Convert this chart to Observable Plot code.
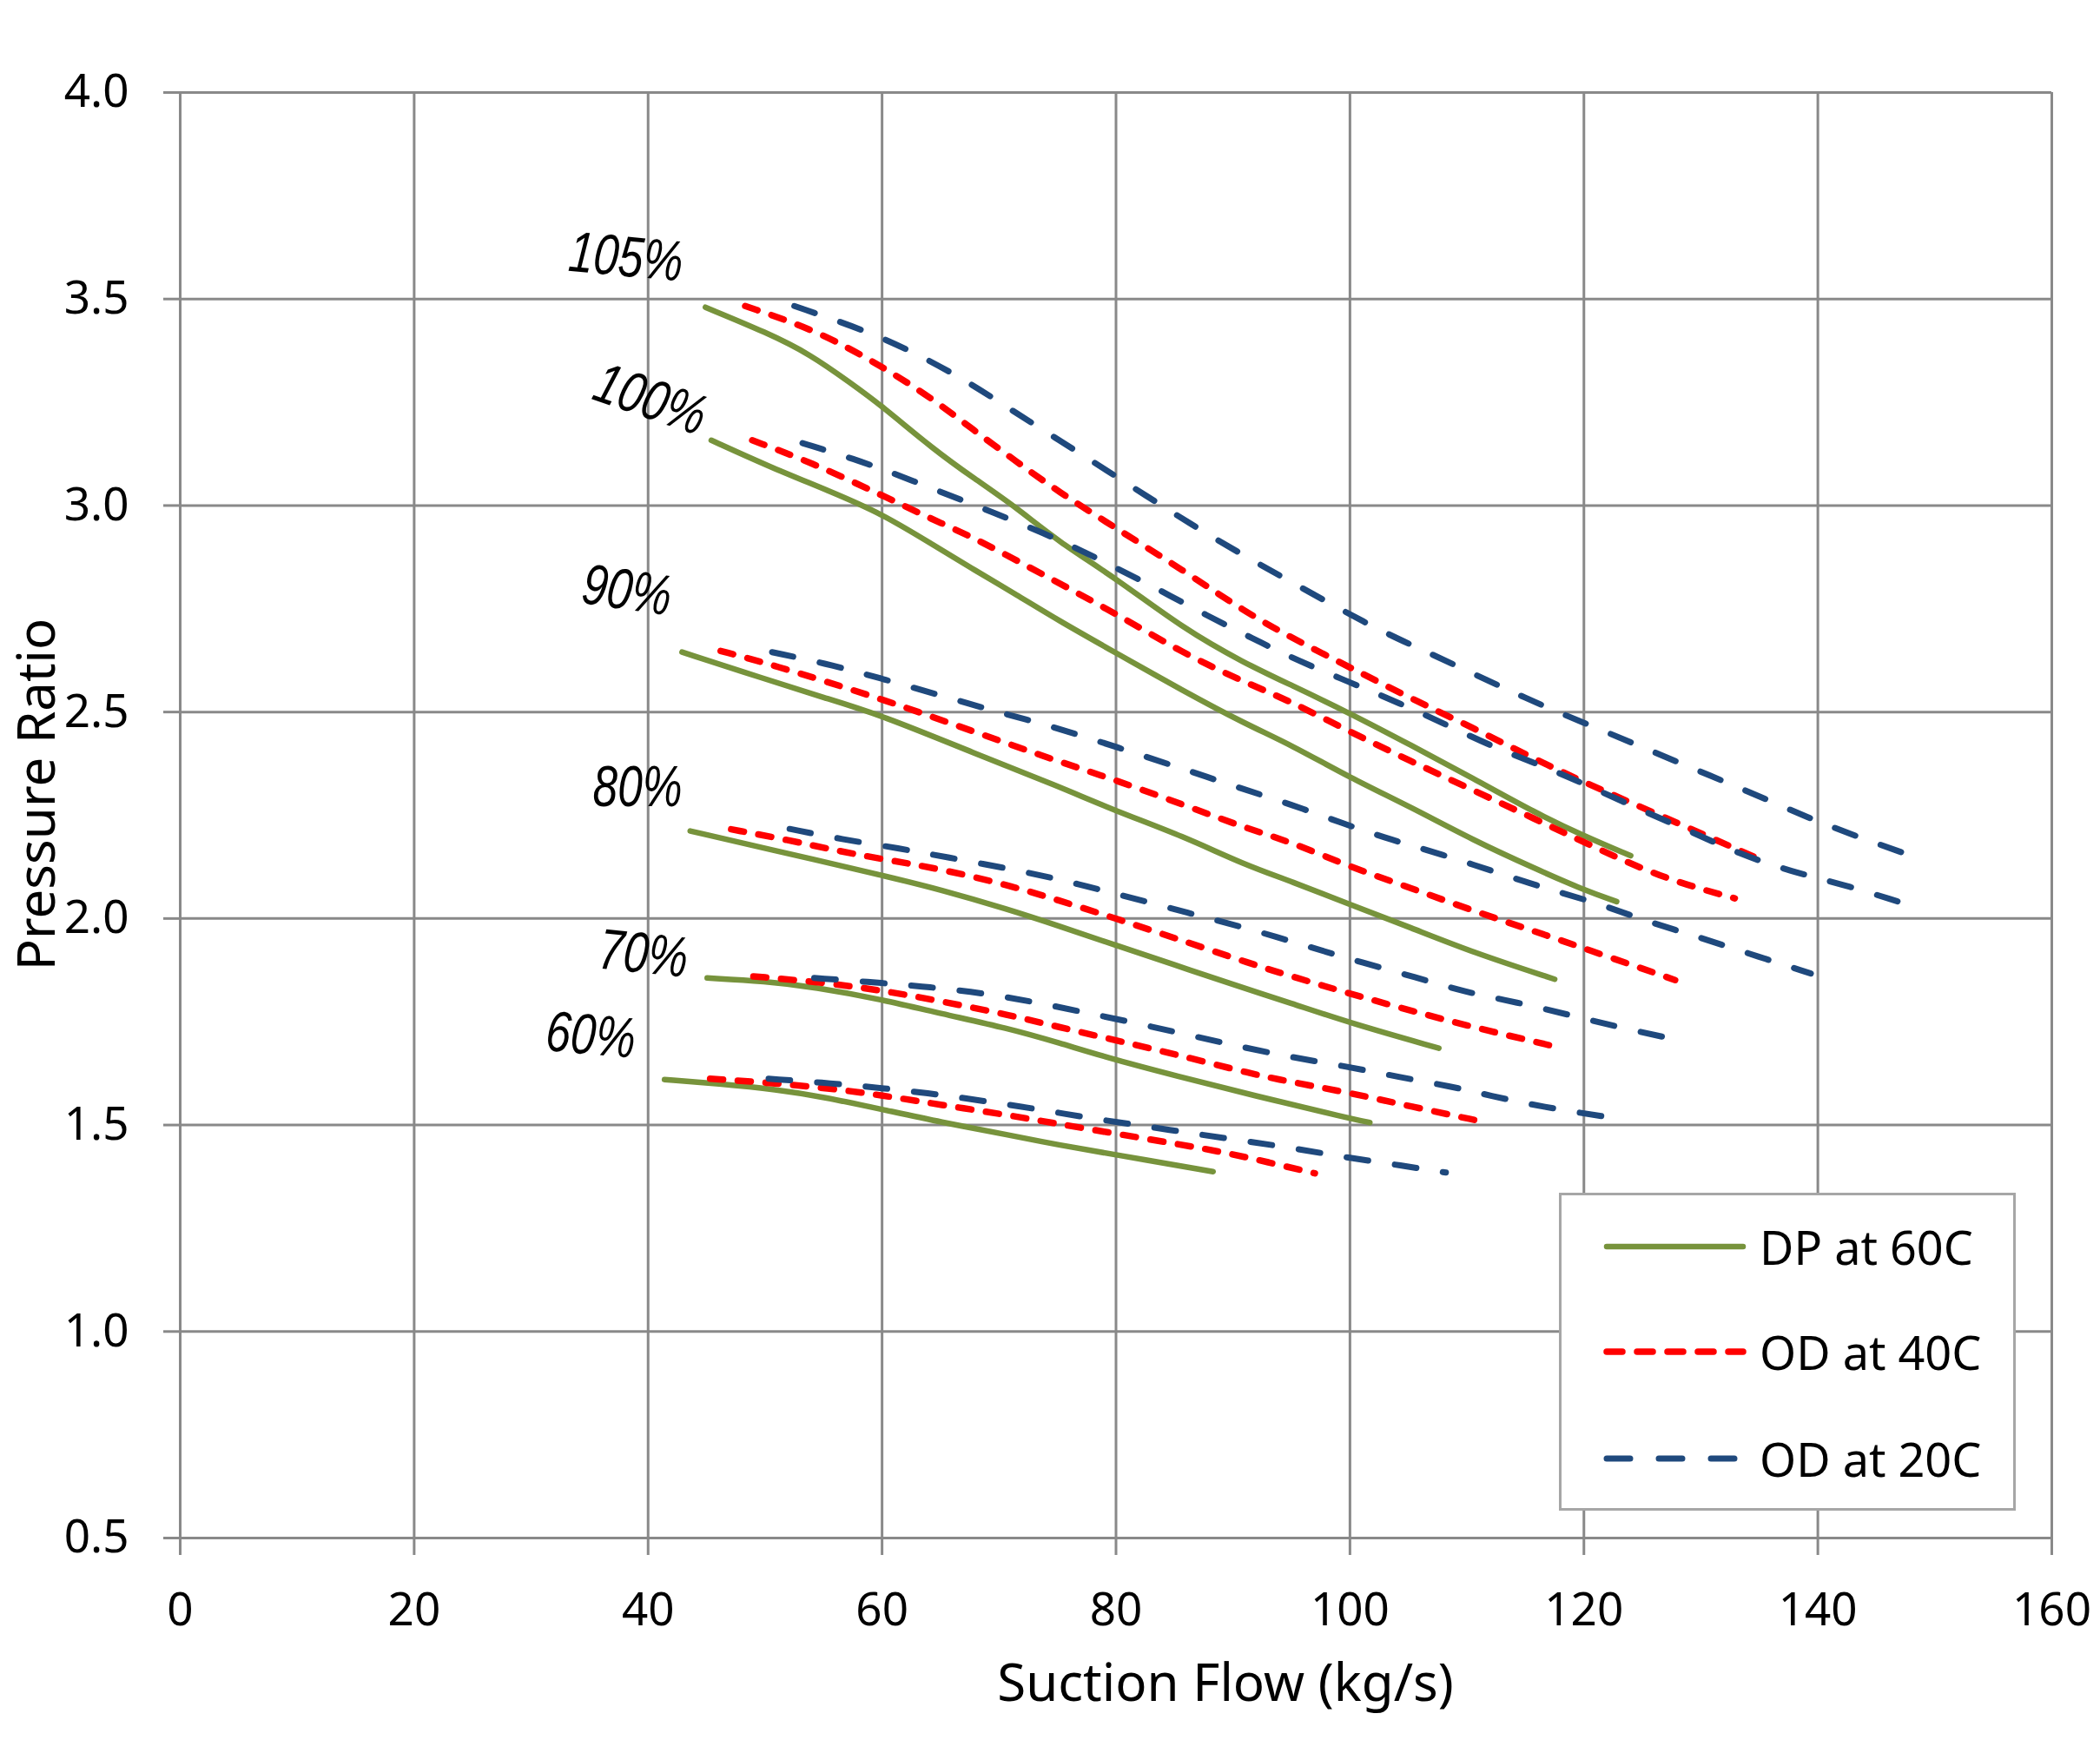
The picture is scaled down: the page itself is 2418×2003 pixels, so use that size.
<!DOCTYPE html>
<html><head><meta charset="utf-8">
<script src="https://cdn.jsdelivr.net/npm/d3@7"></script>
<script src="https://cdn.jsdelivr.net/npm/@observablehq/plot@0.6"></script>
<style>
body{margin:0;background:#fff;}
#wrap{position:relative;width:2418px;height:2003px;}
#legend{position:absolute;left:1795px;top:1373px;}
</style></head><body><div id="wrap"></div>
<script>
// ---- data ----
const speedLabels = ["105%", "100%", "90%", "80%", "70%", "60%"];
const seriesNames = ["DP at 60C", "OD at 40C", "OD at 20C"];

const dp60C = [
  [[44.9,3.48],[50.2,3.418],[53.8,3.367],[57.3,3.297],[60,3.241],[64.4,3.136],[67.9,3.065],[71.5,2.995],[75,2.914],[80,2.824],[85.7,2.703],[91,2.618],[95,2.565],[100,2.497],[105.2,2.42],[110.5,2.34],[115.9,2.255],[120,2.2],[124,2.152]],
  [[45.4,3.158],[50.2,3.096],[55.5,3.035],[60,2.98],[64.4,2.904],[67.9,2.844],[71.5,2.784],[75,2.723],[80,2.643],[85.7,2.552],[91,2.472],[95,2.42],[100,2.341],[105.2,2.27],[110.5,2.19],[115.9,2.12],[120,2.069],[122.8,2.041]],
  [[42.9,2.645],[50,2.58],[55,2.535],[60,2.492],[67.9,2.4],[75,2.321],[80,2.26],[85.7,2.2],[91,2.13],[95,2.09],[100,2.034],[105.2,1.978],[110.5,1.918],[117.5,1.853]],
  [[43.6,2.212],[50,2.17],[60,2.105],[65,2.07],[70.8,2.022],[75,1.983],[80,1.935],[85,1.888],[90,1.84],[95,1.795],[100,1.747],[107.6,1.686]],
  [[45.05,1.856],[50,1.848],[54.2,1.834],[60,1.804],[65,1.77],[70.8,1.734],[75,1.7],[80,1.657],[85,1.62],[91.7,1.572],[100,1.516],[101.7,1.506]],
  [[41.4,1.61],[46,1.6],[51,1.586],[55,1.568],[60,1.538],[65,1.507],[70.8,1.476],[75,1.452],[80,1.428],[88.3,1.387]]
];

const od40C = [
  [[48.3,3.483],[54.5,3.423],[60,3.337],[64.4,3.257],[67.9,3.181],[71.5,3.106],[75,3.035],[80,2.945],[85.7,2.844],[91,2.743],[95,2.68],[100,2.608],[105.2,2.533],[110.5,2.462],[115.9,2.385],[120,2.33],[126.5,2.25],[134.5,2.15]],
  [[48.9,3.158],[53.8,3.106],[60,3.025],[64.4,2.965],[67.9,2.922],[75,2.814],[80,2.738],[85.7,2.643],[91,2.572],[95,2.525],[100,2.452],[105.2,2.381],[110.5,2.311],[115.9,2.24],[120,2.185],[126.5,2.099],[132.9,2.049]],
  [[46.2,2.648],[50.2,2.618],[60,2.532],[67.9,2.452],[75,2.381],[80,2.335],[85.7,2.276],[91,2.22],[95,2.185],[100,2.125],[105.2,2.074],[110.5,2.019],[115.9,1.968],[120,1.928],[127.8,1.851]],
  [[47.1,2.216],[52,2.19],[56,2.165],[60,2.144],[65,2.12],[70.8,2.081],[75,2.045],[80,2.0],[85,1.953],[91.7,1.889],[95,1.86],[100,1.818],[105.2,1.777],[110.5,1.737],[117.4,1.691]],
  [[49.0,1.86],[55,1.845],[60,1.826],[65,1.8],[70.8,1.767],[75,1.738],[80,1.705],[85,1.672],[91.7,1.623],[95,1.604],[100,1.578],[105.2,1.545],[111.2,1.509]],
  [[45.3,1.612],[50,1.603],[55.2,1.59],[60,1.572],[65,1.549],[70.8,1.524],[75,1.503],[80,1.479],[85,1.455],[89.1,1.435],[93,1.41],[97,1.383]]
];

const od20C = [
  [[52.5,3.483],[58.7,3.423],[63,3.367],[67.2,3.302],[70.8,3.236],[74.7,3.166],[78.6,3.096],[82.5,3.025],[86.4,2.955],[90.3,2.889],[94.4,2.824],[101.7,2.709],[105.6,2.658],[109.8,2.603],[113.9,2.548],[118,2.497],[122.3,2.447],[126.5,2.397],[130.8,2.346],[135,2.296],[139.1,2.245],[143.2,2.2],[147.7,2.155]],
  [[53.2,3.151],[58.4,3.106],[62.6,3.06],[67.1,3.01],[71.1,2.965],[75.4,2.914],[79.3,2.859],[83.5,2.799],[87.8,2.733],[91.7,2.678],[95.5,2.625],[99.9,2.573],[104.2,2.522],[108.4,2.467],[112.5,2.412],[116.8,2.366],[120.8,2.316],[125.1,2.26],[129.2,2.21],[133.4,2.155],[137.7,2.114],[142,2.084],[147,2.04]],
  [[50.6,2.645],[55.9,2.613],[60.3,2.578],[64.8,2.542],[69,2.507],[73.4,2.474],[77.7,2.437],[82.1,2.396],[86.4,2.356],[90.6,2.316],[95,2.276],[99.4,2.23],[103.6,2.19],[107.9,2.155],[112.3,2.114],[116.6,2.074],[121,2.039],[125.3,1.994],[129.5,1.958],[133.8,1.918],[139.4,1.867]],
  [[52.1,2.217],[56.5,2.192],[61.5,2.17],[65.6,2.148],[70.6,2.122],[75,2.096],[79.2,2.066],[83.6,2.033],[88,2.0],[92.4,1.967],[96.8,1.929],[101.1,1.893],[105.6,1.858],[109.8,1.822],[114.3,1.797],[118.7,1.767],[123,1.737],[128.6,1.702]],
  [[54.2,1.856],[59.6,1.845],[64.1,1.834],[68.75,1.819],[73.2,1.797],[77.6,1.771],[82,1.745],[86.5,1.716],[90.6,1.69],[95,1.664],[99.7,1.642],[104.2,1.616],[108.6,1.594],[112,1.571],[116.2,1.545],[123.2,1.514]],
  [[50.3,1.612],[55.7,1.601],[60.2,1.589],[64.6,1.575],[69,1.557],[73.4,1.538],[77.9,1.516],[82.3,1.498],[86.7,1.479],[91.1,1.461],[95.6,1.442],[100,1.42],[104.4,1.402],[108.2,1.385]]
];

// speed-line label anchors (data units)
const labelX = [38.1, 40.2, 38.2, 39.1, 39.6, 35.1];
const labelY = [3.60, 3.256, 2.793, 2.316, 1.913, 1.716];

const xTicks = [0, 20, 40, 60, 80, 100, 120, 140, 160];
const yTicks = [0.5, 1.0, 1.5, 2.0, 2.5, 3.0, 3.5, 4.0];

// ---- styles ----
const labelRotate = [5.4, 19, 8.4, 0, 6, 5];
const styles = [
  {stroke: "#77933C", strokeWidth: 6.5, dash: null},
  {stroke: "#FF0000", strokeWidth: 7.5, dash: "15,17"},
  {stroke: "#1F497D", strokeWidth: 7, dash: "25,31"}
];
const gridColor = "#898989";

// ---- build rows ----
const allSeries = [dp60C, od40C, od20C];
const rows = [];
allSeries.forEach((curves, s) => curves.forEach((pts, i) =>
  pts.forEach(([x, y]) => rows.push({series: seriesNames[s], speed: speedLabels[i], x, y}))));
const labels = speedLabels.map((t, i) => ({t, x: labelX[i], y: labelY[i], r: labelRotate[i]}));

const lineMarks = seriesNames.map((name, s) => Plot.line(rows.filter(d => d.series === name), {
  x: "x", y: "y", z: "speed", curve: "basis",
  stroke: styles[s].stroke, strokeWidth: styles[s].strokeWidth,
  strokeDasharray: styles[s].dash, strokeLinecap: "round", strokeLinejoin: "round"
}));

const chart = Plot.plot({
  width: 2418, height: 2003,
  marginLeft: 207, marginRight: 56, marginTop: 106, marginBottom: 233,
  x: {domain: [0, 160]},
  y: {domain: [0.5, 4.0]},
  style: {fontFamily: "'Noto Sans', sans-serif", background: "white", color: "black"},
  marks: [
    Plot.gridX({ticks: xTicks, stroke: gridColor, strokeOpacity: 1, strokeWidth: 3}),
    Plot.gridY({ticks: yTicks, stroke: gridColor, strokeOpacity: 1, strokeWidth: 3}),
    Plot.axisX({ticks: xTicks, tickSize: 20, tickPadding: 43, fontSize: 53, stroke: gridColor, strokeWidth: 3, label: null}),
    Plot.axisY({ticks: yTicks, tickSize: 19, tickPadding: 40, fontSize: 53, stroke: gridColor, strokeWidth: 3, tickFormat: d3.format(".1f"), label: null}),
    ...lineMarks,
    Plot.text(labels, {x: "x", y: "y", text: "t", rotate: "r", fontSize: 66, fontStyle: "italic",
      fontFamily: "'Liberation Sans', Arial, sans-serif", fill: "black"}),
    Plot.text(["Suction Flow (kg/s)"], {text: d => d, frameAnchor: "bottom", dx: 126, dy: 168, fontSize: 60, textAnchor: "middle", lineAnchor: "middle", fill: "black"}),
    Plot.text(["Pressure Ratio"], {text: d => d, frameAnchor: "left", dx: -164, dy: -24, rotate: -90, fontSize: 60, textAnchor: "middle", lineAnchor: "middle", fill: "black"})
  ]
});
// narrow the italic speed labels (Arial Narrow look)
chart.querySelectorAll("text").forEach(t => {
  if (!speedLabels.includes(t.textContent.trim())) return;
  const xa = t.getAttribute("x");
  let pre = "";
  if (xa !== null && !/em$/.test(xa) && +xa) {
    const ya = t.getAttribute("y");
    const yn = (ya !== null && !/em$/.test(ya)) ? +ya : 0;
    pre = ` translate(${+xa},${yn})`;
    t.removeAttribute("x");
    if (ya !== null && !/em$/.test(ya)) t.removeAttribute("y");
  }
  const tr = t.getAttribute("transform") || "";
  t.setAttribute("transform", `${tr}${pre} scale(0.78,1)`);
});
const wrap = document.getElementById("wrap");
wrap.appendChild(chart);

// ---- legend (overlay inside plot area) ----
const W = 526, H = 366, rowsY = [62, 183, 306];
const ns = "http://www.w3.org/2000/svg";
const lg = document.createElementNS(ns, "svg");
lg.setAttribute("id", "legend");
lg.setAttribute("width", W); lg.setAttribute("height", H);
const rect = document.createElementNS(ns, "rect");
Object.entries({x: 1.5, y: 1.5, width: W - 3, height: H - 3, fill: "white", stroke: "#a6a6a6", "stroke-width": 3})
  .forEach(([k, v]) => rect.setAttribute(k, v));
lg.appendChild(rect);
seriesNames.forEach((name, s) => {
  const ln = document.createElementNS(ns, "line");
  Object.entries({x1: 55, x2: 212, y1: rowsY[s], y2: rowsY[s], stroke: styles[s].stroke,
    "stroke-width": styles[s].strokeWidth, "stroke-linecap": "round"}).forEach(([k, v]) => ln.setAttribute(k, v));
  if (styles[s].dash) ln.setAttribute("stroke-dasharray", s === 1 ? "18,17" : "27,33");
  lg.appendChild(ln);
  const tx = document.createElementNS(ns, "text");
  Object.entries({x: 231, y: rowsY[s], "dominant-baseline": "central", "font-family": "'Noto Sans', sans-serif",
    "font-size": 54, fill: "black"}).forEach(([k, v]) => tx.setAttribute(k, v));
  tx.textContent = name;
  lg.appendChild(tx);
});
wrap.appendChild(lg);
</script></body></html>
